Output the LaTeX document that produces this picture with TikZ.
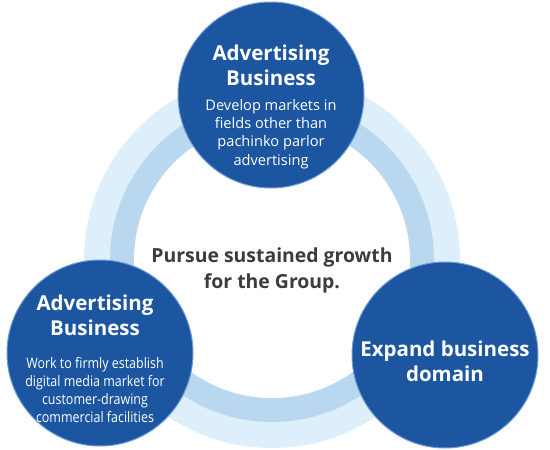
\documentclass[tikz,border=0pt]{standalone}
\usepackage{fontspec}
\setmainfont{Open Sans}
\newfontfamily\narrowfont[FakeStretch=0.86]{Open Sans}
\usepackage{xcolor}
\usepackage{tikz}
\usetikzlibrary{positioning, calc}
\definecolor{bizblue}{RGB}{28,85,160}
\definecolor{bizrim}{RGB}{110,155,215}
\definecolor{ringlight}{RGB}{221,239,250}
\definecolor{ringmid}{RGB}{186,215,240}
\definecolor{goaltext}{RGB}{60,60,60}
\tikzstyle{bizcircle} = [circle, fill=bizblue, draw=bizrim, line width=1pt, minimum size=186pt, inner sep=0pt]
\tikzstyle{headtext} = [text=white, align=center, inner sep=0pt, font=\bfseries\fontsize{20.5}{25}\selectfont]
\tikzstyle{subtext} = [text=white, align=center, inner sep=0pt, font=\fontsize{14.6}{18.3}\selectfont]

\begin{document}
\begin{tikzpicture}[x=1pt, y=-1pt]
\useasboundingbox (0,0) rectangle (550,450);
% Ring
\coordinate (hub) at (272,260);
\fill[ringlight] (hub) circle[radius=188pt];
\fill[ringmid] (hub) circle[radius=162pt];
\fill[white] (hub) circle[radius=138pt];

\node (goal) [align=center, text=goaltext, font=\bfseries\fontsize{19.4}{26}\selectfont] at (272,270) {Pursue sustained growth\\for the Group.};

% Circles
\node (top) [bizcircle] at (271,95) {};
\node (toptitle) [headtext] at ([yshift=30pt]top.center) {Advertising\\Business};
\node (topsub) [subtext] at ([yshift=-39pt]top.center) {Develop markets in\\fields other than\\pachinko parlor\\advertising};

\node (left) [bizcircle] at (100,353) {};
\node (lefttitle) [headtext] at ([xshift=-5pt, yshift=38pt]left.center) {Advertising\\Business};
\node (leftsub) [subtext, font=\narrowfont\fontsize{14.5}{17.8}\selectfont] at ([xshift=-5pt, yshift=-37pt]left.center) {Work to firmly establish\\digital media market for\\customer-drawing\\commercial facilities};

\node (right) [bizcircle] at (445,355) {};
\node (righttitle) [headtext] at ([yshift=-6pt]right.center) {Expand business\\domain};
\end{tikzpicture}
\end{document}
